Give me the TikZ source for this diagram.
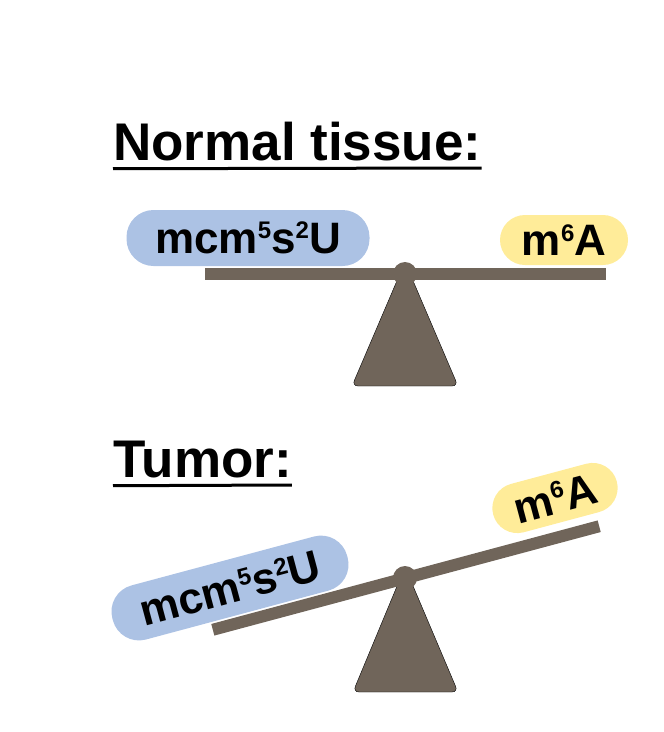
\documentclass[tikz,border=0pt]{standalone}
\usepackage{fontspec}
\setmainfont{Liberation Sans}
\newcommand{\mysup}[1]{\raisebox{0.33em}{\fontsize{24}{24}\selectfont\bfseries #1}}
\begin{document}
\begin{tikzpicture}[x=1pt,y=-1pt,
  beam/.style={fill=beamc},
  fulc/.style={fill=beamc,rounded corners=6pt},
  bluepill/.style={fill=pillblue,rounded corners=27pt,minimum width=243pt,minimum height=56pt,inner sep=0pt,font=\bfseries\fontsize{44}{46}\selectfont},
  yelpill/.style={fill=pillyel,rounded corners=25pt,minimum width=128pt,minimum height=50pt,inner sep=0pt,font=\bfseries\fontsize{44}{46}\selectfont},
  title/.style={font=\bfseries\fontsize{53}{56}\selectfont,anchor=base west,inner sep=0pt}]
\definecolor{beamc}{RGB}{112,101,90}
\definecolor{pillblue}{RGB}{172,194,228}
\definecolor{pillyel}{RGB}{255,236,153}
\useasboundingbox (0,0) rectangle (664,732);
% Normal
\node[title] (t1) at (113,160) {Normal tissue:};
\draw[line width=3pt] (t1.south west) ++(0,8) -- (t1.south east |- 0,168);
\draw[fulc] (405,262) -- (458,386) -- (352,386) -- cycle;
\fill[beamc] (405,274) circle (12);
\fill[beam] (205,268) rectangle (606,280);
\node[bluepill] (b1) at (248,238) {mcm\mysup{5}s\mysup{2}U};
\node[yelpill] (y1) at (564,240) {m\mysup{6}A};
% Tumor
\node[title] (t2) at (113,477) {Tumor:};
\draw[line width=3pt] (t2.south west) ++(0,8) -- (t2.south east |- 0,485);
\draw[fulc] (405,567) -- (458,692) -- (353,692) -- cycle;
\fill[beamc] (405,578) circle (12);
\begin{scope}[shift={(406,578)},rotate=15]
\fill[beam] (-200,-6) rectangle (200,6);
\end{scope}
\node[bluepill,rotate=15] (b2) at (230,588) {mcm\mysup{5}s\mysup{2}U};
\node[yelpill,rotate=15] (y2) at (555,498) {m\mysup{6}A};
\end{tikzpicture}
\end{document}
